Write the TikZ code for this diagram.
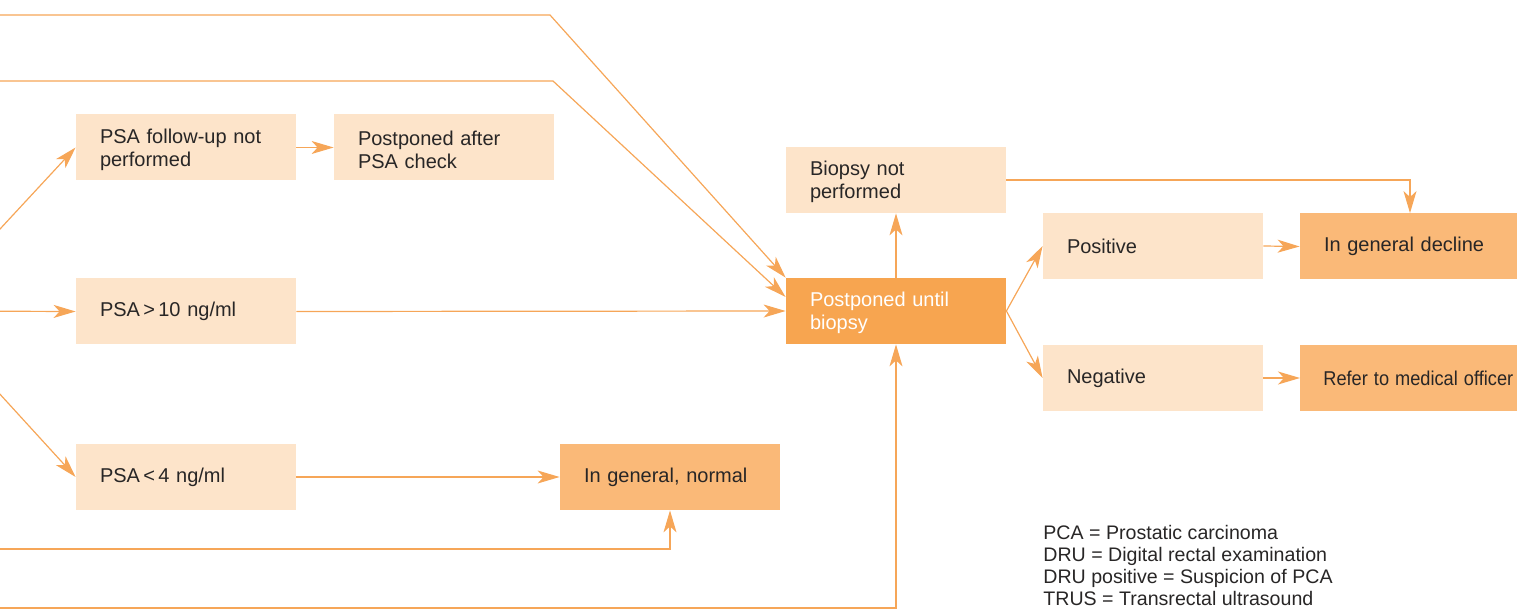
\documentclass[tikz,border=0pt]{standalone}
\usepackage{fontspec}
\setmainfont{Liberation Sans}
\usetikzlibrary{arrows.meta}
\definecolor{lightbox}{RGB}{253,228,202}
\definecolor{midbox}{RGB}{250,185,120}
\definecolor{darkbox}{RGB}{247,165,80}
\definecolor{linec}{RGB}{246,166,88}
\definecolor{txt}{RGB}{40,38,38}
\newcommand\upstrut{\rule{0pt}{9.3pt}}
\begin{document}
\begin{tikzpicture}[x=0.5pt,y=-0.5pt,
  >={Stealth[length=11pt,width=6.5pt,inset=3pt]},
  box/.style={rectangle, inner xsep=12pt, inner ysep=0pt, minimum width=110pt,
    minimum height=33pt, text width=86pt, align=left,
    font=\fontsize{10}{11.5}\selectfont, text=txt},
  light/.style={box, fill=lightbox},
  mid/.style={box, fill=midbox},
  dark/.style={box, fill=darkbox, text=white},
  conn/.style={draw=linec, line width=0.6pt},
  legend/.style={inner sep=0pt, align=left, font=\fontsize{9.8}{11}\selectfont,
    text=txt, anchor=north west}]
\useasboundingbox (0,0) rectangle (1517,609);
\clip (0,0) rectangle (1517,609);

% nodes
\node[light] (fu)  at (186,147.5) {\upstrut PSA follow-up not\\performed};
\node[light] (pc)  at (444,147.5) {\upstrut Postponed after\\PSA check};
\node[light] (p10) at (186,311.5) {PSA\,>\,10 ng/ml};
\node[light] (p4)  at (186,477)   {PSA\,<\,4 ng/ml};
\node[mid]   (norm) at (670,477)  {In general, normal};
\node[light] (bnp) at (896,180)   {\upstrut Biopsy not\\performed};
\node[dark]  (pb)  at (896,311)   {\upstrut Postponed until\\biopsy};
\node[light] (pos) at (1153,246)  {Positive};
\node[light] (neg) at (1153,378)  {Negative};
\node[mid]   (dec) at (1410,246.5) {In general decline};
\node[mid, text width=105pt, inner xsep=11.5pt, anchor=west] (ref) at (1300,378) {\scalebox{0.91}[1]{Refer to medical officer}};

\node[legend] (leg) at (1043,525) {PCA = Prostatic carcinoma\\DRU = Digital rectal examination\\DRU positive = Suspicion of PCA\\TRUS = Transrectal ultrasound};

% off-picture sources and bends
\coordinate (src) at (-76,311);
\coordinate (l1) at (-10,15);
\coordinate (b1) at (550,15);
\coordinate (l2) at (-10,81);
\coordinate (b2) at (553,81);
\coordinate (l3) at (-10,549);
\coordinate (l4) at (-10,608);

% connectors
\draw[conn,->] (src) -- (fu.west);
\draw[conn,->] (src) -- (p10.west);
\draw[conn,->] (src) -- (p4.west);
\draw[conn,->] (fu.east) -- (pc.west);
\draw[conn,->] (p4.east) -- (norm.west);
\draw[conn,->] (p10.east) -- (pb.west);
\draw[conn,->] (l1) -- (b1) -- (pb.north west);
\draw[conn,->] (l2) -- (b2) -- ([yshift=7pt]pb.west);
\draw[conn,->] (l3) -| (norm.south);
\draw[conn,->] (l4) -| (pb.south);
\draw[conn,->] (pb.north) -- (bnp.south);
\draw[conn,->] (pb.east) -- (pos.west);
\draw[conn,->] (pb.east) -- (neg.west);
\draw[conn,->] (pos.east) -- (dec.west);
\draw[conn,->] (neg.east) -- (ref.west);
\draw[conn,->] (bnp.east) -| (dec.north);
\end{tikzpicture}
\end{document}
